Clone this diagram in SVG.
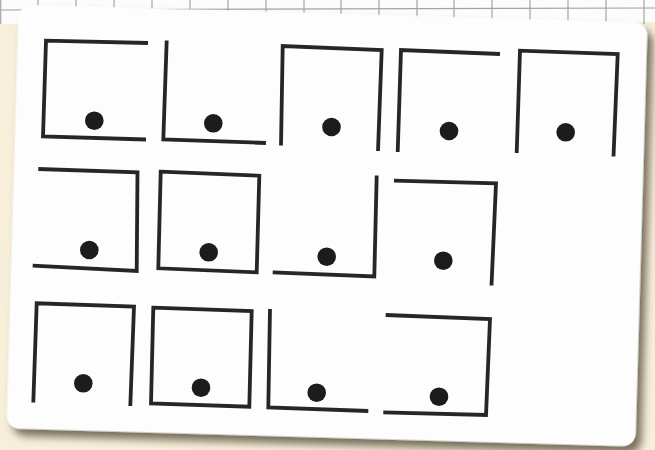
<svg xmlns="http://www.w3.org/2000/svg" width="655" height="450" viewBox="0 0 655 450">
<defs>
<style>
.ln{fill:none;stroke:#262626;stroke-width:3.8;stroke-linejoin:miter;stroke-linecap:butt}
.dt{fill:#1c1c1c}
.grid{stroke:#a3a3a3;stroke-width:1.2}
.fig{filter:url(#soft)}
</style>
<filter id="sh" x="-5%" y="-5%" width="112%" height="115%">
<feDropShadow dx="6" dy="7" stdDeviation="4.5" flood-color="#4a402e" flood-opacity="0.75"/>
</filter>
<filter id="soft" x="-10%" y="-10%" width="120%" height="120%">
<feGaussianBlur stdDeviation="0.55"/>
</filter>
</defs>
<rect x="0" y="0" width="655" height="450" fill="#f8efdb"/>
<g id="grid-paper">
<polygon points="0,0 655,0 655,22 0,24" fill="#fcfcfc"/>
<line class="grid" x1="0" y1="10" x2="655" y2="8"/>
<g class="grid">
<line x1="0.7" y1="0" x2="0.7" y2="24"/>
<line x1="38" y1="0" x2="38" y2="24"/>
<line x1="76" y1="0" x2="76" y2="24"/>
<line x1="114" y1="0" x2="114" y2="24"/>
<line x1="152" y1="0" x2="152" y2="24"/>
<line x1="190" y1="0" x2="190" y2="24"/>
<line x1="228" y1="0" x2="228" y2="24"/>
<line x1="266" y1="0" x2="266" y2="24"/>
<line x1="304" y1="0" x2="304" y2="24"/>
<line x1="341" y1="0" x2="341" y2="24"/>
<line x1="379" y1="0" x2="379" y2="24"/>
<line x1="417" y1="0" x2="417" y2="24"/>
<line x1="454" y1="0" x2="454" y2="24"/>
<line x1="492" y1="0" x2="492" y2="24"/>
<line x1="530" y1="0" x2="530" y2="24"/>
<line x1="568" y1="0" x2="568" y2="24"/>
<line x1="606" y1="0" x2="606" y2="24"/>
<line x1="644" y1="0" x2="644" y2="24"/>
</g>
</g>
<rect id="card" x="12.5" y="13.5" width="629" height="424" rx="13" fill="#fdfdfd" filter="url(#sh)" transform="rotate(1.65 327 225.5)"/>
<g id="fig1" class="fig"><polyline class="ln" points="148,43 46,40.7 43,136.5 146,139.5"/><circle class="dt" cx="94.3" cy="120.7" r="9.3"/></g>
<g id="fig2" class="fig"><polyline class="ln" points="166.7,40.5 163.3,139.3 266,143"/><circle class="dt" cx="213.3" cy="123.3" r="9.3"/></g>
<g id="fig3" class="fig"><polyline class="ln" points="281,145.5 282.7,46 381.7,50 378,151"/><circle class="dt" cx="331.5" cy="127" r="9.3"/></g>
<g id="fig4" class="fig"><polyline class="ln" points="397.7,152 401,50 500,54"/><circle class="dt" cx="449" cy="131" r="9.3"/></g>
<g id="fig5" class="fig"><polyline class="ln" points="516.7,153 520,50.7 617.7,54 613.5,156.5"/><circle class="dt" cx="565.7" cy="132.3" r="9.3"/></g>
<g id="fig6" class="fig"><polyline class="ln" points="38.3,169 137.5,172.3 136.7,271 32.7,265.7"/><circle class="dt" cx="89.3" cy="250" r="9.3"/></g>
<g id="fig7" class="fig"><polygon class="ln" points="160.7,171.7 259.3,175.7 256.7,272.3 158.3,268.3"/><circle class="dt" cx="208.7" cy="252.3" r="9.3"/></g>
<g id="fig8" class="fig"><polyline class="ln" points="376.7,175.5 374.3,276.5 272.7,272.3"/><circle class="dt" cx="326.7" cy="256.7" r="9.3"/></g>
<g id="fig9" class="fig"><polyline class="ln" points="394,180.7 496,183.3 491.5,285.5"/><circle class="dt" cx="443.3" cy="260.7" r="9.3"/></g>
<g id="fig10" class="fig"><polyline class="ln" points="33.3,402.5 36.7,303.3 134,306.7 130.3,406"/><circle class="dt" cx="83.3" cy="383.3" r="9.3"/></g>
<g id="fig11" class="fig"><polygon class="ln" points="153.3,307.7 251.7,311 249.3,406.7 151,403.3"/><circle class="dt" cx="201" cy="387.7" r="9.3"/></g>
<g id="fig12" class="fig"><polyline class="ln" points="270,309 268.3,407.3 368.3,411"/><circle class="dt" cx="316.7" cy="392.7" r="9.3"/></g>
<g id="fig13" class="fig"><polyline class="ln" points="385.7,315 490,319 486,415 383.3,412.3"/><circle class="dt" cx="439" cy="396.7" r="9.3"/></g>
</svg>
